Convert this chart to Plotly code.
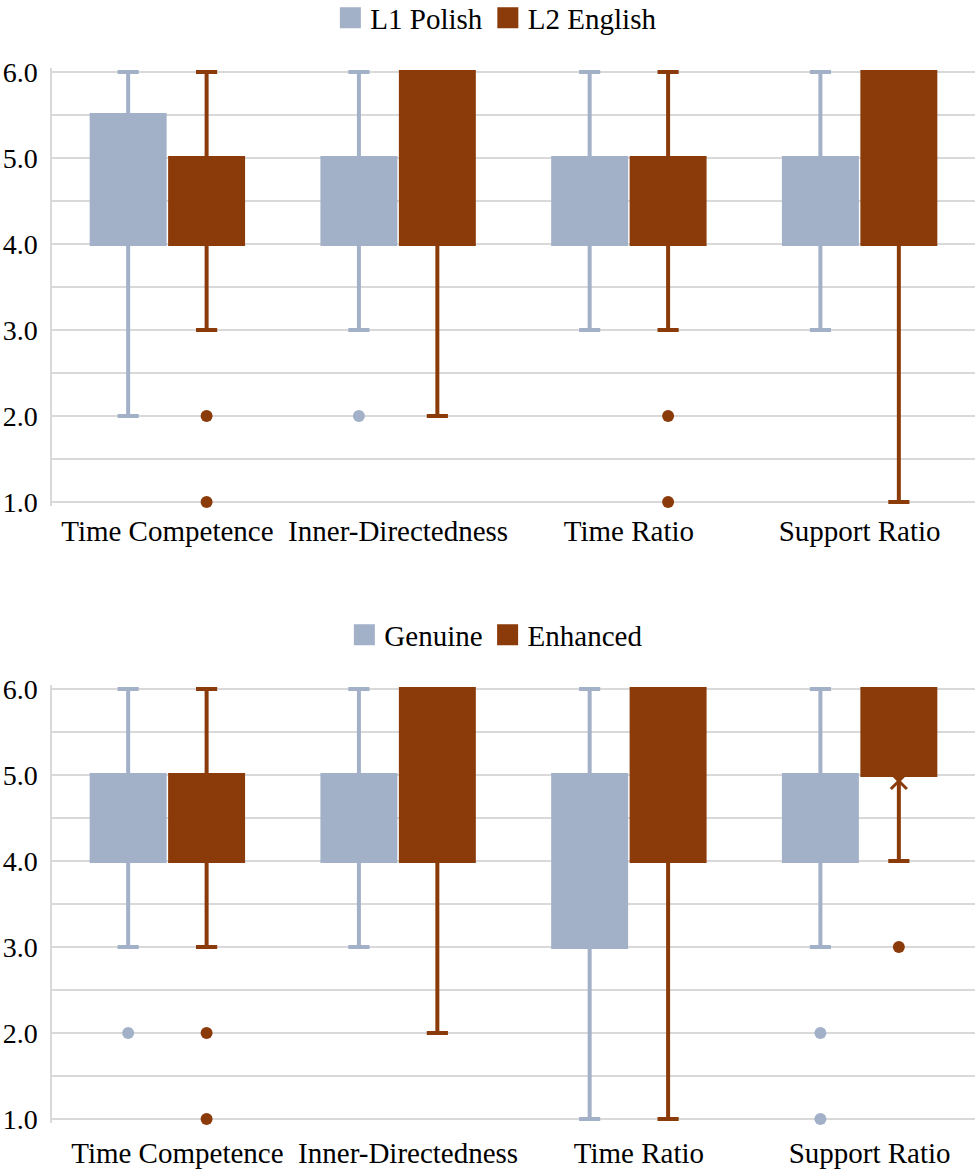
import plotly.graph_objects as go

categories = ["Time Competence", "Inner-Directedness", "Time Ratio", "Support Ratio"]
y_tick_values = [1, 2, 3, 4, 5, 6]
y_tick_labels = ["1.0", "2.0", "3.0", "4.0", "5.0", "6.0"]

# Top chart: L1 Polish vs L2 English
polish_q1 = [4.0, 4.0, 4.0, 4.0]
polish_median = [5.0, 4.0, 4.0, 4.0]
polish_q3 = [5.5, 5.0, 5.0, 5.0]
polish_low = [2.0, 3.0, 3.0, 3.0]
polish_high = [6.0, 6.0, 6.0, 6.0]
polish_out_cats = ["Inner-Directedness"]
polish_out_vals = [2.0]

english_q1 = [4.0, 4.0, 4.0, 4.0]
english_median = [4.0, 4.0, 4.0, 4.0]
english_q3 = [5.0, 6.0, 5.0, 6.0]
english_low = [3.0, 2.0, 3.0, 1.0]
english_high = [6.0, 6.0, 6.0, 6.0]
english_out_cats = ["Time Competence", "Time Competence", "Time Ratio", "Time Ratio"]
english_out_vals = [2.0, 1.0, 2.0, 1.0]

# Bottom chart: Genuine vs Enhanced
genuine_q1 = [4.0, 4.0, 3.0, 4.0]
genuine_median = [4.0, 4.0, 4.0, 4.0]
genuine_q3 = [5.0, 5.0, 5.0, 5.0]
genuine_low = [3.0, 3.0, 1.0, 3.0]
genuine_high = [6.0, 6.0, 6.0, 6.0]
genuine_out_cats = ["Time Competence", "Support Ratio", "Support Ratio"]
genuine_out_vals = [2.0, 2.0, 1.0]

enhanced_q1 = [4.0, 4.0, 4.0, 5.0]
enhanced_median = [4.0, 4.0, 4.0, 5.0]
enhanced_q3 = [5.0, 6.0, 6.0, 6.0]
enhanced_low = [3.0, 2.0, 1.0, 4.0]
enhanced_high = [6.0, 6.0, 6.0, 6.0]
enhanced_out_cats = ["Time Competence", "Time Competence", "Support Ratio"]
enhanced_out_vals = [2.0, 1.0, 3.0]
enhanced_mean_cats = ["Support Ratio"]
enhanced_mean_vals = [4.93]

BLUE = "#A2B0C8"
BROWN = "#8B3A0A"
GRID = "#D9D9D9"
FONT = "Liberation Serif"
FS = 29

fig = go.Figure()


def add_box(name, q1, med, q3, lo, hi, color, xa, ya, group):
    fig.add_trace(go.Box(
        x=categories, q1=q1, median=med, q3=q3, lowerfence=lo, upperfence=hi,
        boxpoints=False, name=name, showlegend=False, offsetgroup=group,
        fillcolor=color, line=dict(color=color, width=4), whiskerwidth=0.29,
        xaxis=xa, yaxis=ya, hoverinfo="skip",
    ))


def add_points(cats, vals, color, xa, ya, group):
    fig.add_trace(go.Scatter(
        x=cats, y=vals, mode="markers", showlegend=False, offsetgroup=group,
        marker=dict(color=color, size=12, line=dict(width=0)),
        xaxis=xa, yaxis=ya, hoverinfo="skip", cliponaxis=False,
    ))


def add_legend_item(name, color, legend, xa, ya, group):
    fig.add_trace(go.Scatter(
        x=categories, y=[None] * len(categories), mode="markers", name=name,
        marker=dict(symbol="square", size=16, color=color, line=dict(color=color, width=5)),
        legend=legend, xaxis=xa, yaxis=ya, offsetgroup=group, showlegend=True,
    ))


add_box("L1 Polish", polish_q1, polish_median, polish_q3, polish_low, polish_high,
        BLUE, "x", "y", "a")
add_box("L2 English", english_q1, english_median, english_q3, english_low, english_high,
        BROWN, "x", "y", "b")
add_box("Genuine", genuine_q1, genuine_median, genuine_q3, genuine_low, genuine_high,
        BLUE, "x2", "y2", "a")
add_box("Enhanced", enhanced_q1, enhanced_median, enhanced_q3, enhanced_low, enhanced_high,
        BROWN, "x2", "y2", "b")

add_points(polish_out_cats, polish_out_vals, BLUE, "x", "y", "a")
add_points(english_out_cats, english_out_vals, BROWN, "x", "y", "b")
add_points(genuine_out_cats, genuine_out_vals, BLUE, "x2", "y2", "a")
add_points(enhanced_out_cats, enhanced_out_vals, BROWN, "x2", "y2", "b")

add_legend_item("L1 Polish", BLUE, "legend", "x", "y", "a")
add_legend_item("L2 English", BROWN, "legend", "x", "y", "b")
add_legend_item("Genuine", BLUE, "legend2", "x2", "y2", "a")
add_legend_item("Enhanced", BROWN, "legend2", "x2", "y2", "b")

fig.add_trace(go.Scatter(
    x=enhanced_mean_cats, y=enhanced_mean_vals, mode="markers", showlegend=False,
    marker=dict(symbol="x-thin", size=16, color=BROWN, line=dict(color=BROWN, width=3)),
    xaxis="x2", yaxis="y2", offsetgroup="b", hoverinfo="skip",
))

yaxis_common = dict(
    range=[0.95, 6.05], tickmode="array", tickvals=y_tick_values, ticktext=y_tick_labels,
    showgrid=True, gridcolor=GRID, gridwidth=1.5,
    minor=dict(dtick=0.5, tick0=1, showgrid=True, gridcolor=GRID, gridwidth=1.5),
    showline=True, linecolor=GRID, linewidth=1.5, zeroline=False,
    ticks="", ticklabelstandoff=7, tickfont=dict(family=FONT, size=28, color="black"),
    fixedrange=True,
)
xaxis_common = dict(
    type="category", categoryorder="array", categoryarray=categories,
    showgrid=False, showline=False, zeroline=False, ticks="",
    tickfont=dict(family=FONT, size=FS, color="black"), automargin=False,
)

H = 1171
fig.update_layout(
    width=979, height=H,
    margin=dict(l=52, r=4, t=0, b=0, autoexpand=False),
    paper_bgcolor="white", plot_bgcolor="white",
    font=dict(family=FONT, size=FS, color="black"),
    boxmode="group", boxgap=0.32, boxgroupgap=0.07,
    scattermode="group", scattergap=0.32,
    xaxis=dict(domain=[0, 1], anchor="y", ticklabelstandoff=5, **xaxis_common),
    xaxis2=dict(domain=[0, 1], anchor="y2", ticklabelstandoff=10, ticklabelshift=10, **xaxis_common),
    yaxis=dict(domain=[(H - 506.3) / H, (H - 67.7) / H], anchor="x", **yaxis_common),
    yaxis2=dict(domain=[(H - 1123.3) / H, (H - 684.7) / H], anchor="x2", **yaxis_common),
    legend=dict(orientation="h", xref="container", yref="container",
                x=0.507, xanchor="center", y=1 - 18 / H, yanchor="middle",
                font=dict(family=FONT, size=FS, color="black"), bgcolor="rgba(0,0,0,0)"),
    legend2=dict(orientation="h", xref="container", yref="container",
                 x=0.507, xanchor="center", y=1 - 635 / H, yanchor="middle",
                 font=dict(family=FONT, size=FS, color="black"), bgcolor="rgba(0,0,0,0)"),
)

fig.write_html("out.html")
